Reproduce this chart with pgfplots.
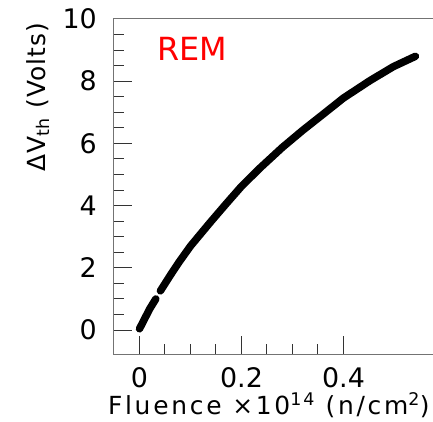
\documentclass[border=0pt]{standalone}
\usepackage{fontspec}
\setmainfont{DejaVu Sans}
\newfontfamily\xlabelfont{DejaVu Sans}[LetterSpace=11]
\newfontfamily\ylabelfont{DejaVu Sans}[LetterSpace=4]
\usepackage{pgfplots}
\pgfplotsset{compat=1.18}
\begin{document}
\begin{tikzpicture}
\path[use as bounding box] (-114bp,-68bp) rectangle (319bp,354bp);
\begin{axis}[
  at={(0,0)}, anchor=south west,
  scale only axis, width=331.5bp, height=335bp,
  xmin=-0.05, xmax=0.6, ymin=-0.77, ymax=10,
  xtick={0,0.2,0.4}, minor x tick num=3,
  ytick={0,2,...,10}, minor y tick num=3,
  xtick pos=bottom, ytick pos=left,
  tick align=inside,
  major tick length=18bp, minor tick length=10bp,
  every tick/.style={black!80, line width=1bp},
  axis line style={draw=black!55, line width=1bp},
  /pgf/number format/assume math mode=true,
  ticklabel style={font=\fontsize{27}{30}\selectfont, inner sep=0pt},
  xticklabel style={anchor=north, yshift=-13bp},
  yticklabel style={anchor=east, xshift=-17bp},
  xlabel={Fluence ×10\textsuperscript{14} (n/cm\textsuperscript{2})},
  xlabel style={font=\xlabelfont\fontsize{25}{28}\selectfont, inner sep=0pt, at={(axis description cs:0.953,-0.152)}, anchor=east},
  ylabel={ΔV\textsubscript{th} (Volts)},
  ylabel style={font=\ylabelfont\fontsize{25}{28}\selectfont, inner sep=0pt, at={(axis description cs:-0.229,0.988)}, anchor=east},
  clip=false,
]
\addplot[black, line width=7.5bp, line cap=round] coordinates {
(0,0.04) (0.01,0.36) (0.02,0.68) (0.032,1.0)
};
\addplot[black, line width=7.5bp, line cap=round] coordinates {
(0.041,1.26) (0.06,1.75) (0.0765,2.16) (0.10,2.70) (0.1386,3.46)
(0.17,4.06) (0.2,4.62) (0.237,5.22) (0.28,5.87) (0.32,6.42) (0.354,6.86)
(0.40,7.46) (0.452,8.02) (0.498,8.47) (0.541,8.80)
};
\node[anchor=north west, inner sep=0pt, text=red, font=\fontsize{32}{34}\selectfont] at (axis description cs:0,1) [xshift=43bp, yshift=-18bp] {REM};
\end{axis}
\end{tikzpicture}
\end{document}
